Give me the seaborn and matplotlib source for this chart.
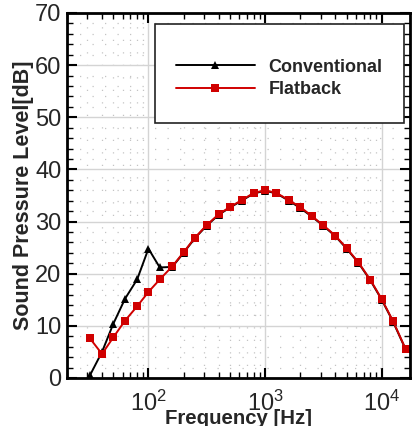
import numpy as np
import pandas as pd
import matplotlib
matplotlib.use("Agg")
import matplotlib.pyplot as plt
import seaborn as sns
from matplotlib.patches import Rectangle
from matplotlib.ticker import LogLocator, MultipleLocator, NullFormatter

# 1/3-octave band centre frequencies [Hz]
freq = [31.5, 40, 50, 63, 80, 100, 125, 160, 200, 250, 315, 400, 500, 630,
        800, 1000, 1250, 1600, 2000, 2500, 3150, 4000, 5000, 6300, 8000,
        10000, 12500, 16000]

# Sound pressure levels [dB]
spl_conventional = [0.5, 5.0, 10.4, 15.2, 18.9, 24.8, 21.2, 21.3, 24.0, 26.8,
                    29.2, 31.3, 32.7, 34.0, 35.4, 35.9, 35.4, 34.0, 32.6, 31.0,
                    29.2, 27.2, 24.8, 22.1, 18.7, 15.0, 10.8, 5.5]
spl_flatback = [7.6, 4.6, 7.8, 11.0, 13.75, 16.5, 18.9, 21.4, 24.1, 26.9,
                29.3, 31.4, 32.8, 34.1, 35.5, 36.0, 35.5, 34.1, 32.8, 31.1,
                29.3, 27.3, 24.9, 22.2, 18.8, 15.1, 10.9, 5.6]

series_names = ["Conventional", "Flatback"]

df = pd.concat([
    pd.DataFrame({"Frequency": freq, "SPL": spl_conventional, "Case": series_names[0]}),
    pd.DataFrame({"Frequency": freq, "SPL": spl_flatback, "Case": series_names[1]}),
])

sns.set_style("ticks")
plt.rcParams["font.family"] = ["Liberation Sans", "DejaVu Sans"]
plt.rcParams["mathtext.fontset"] = "custom"
plt.rcParams["mathtext.rm"] = "Liberation Sans"
plt.rcParams["mathtext.it"] = "Liberation Sans:italic"

fig = plt.figure(figsize=(4.13, 4.26), dpi=100)
ax = fig.add_axes([0.162, 0.1127, 0.831, 0.8568])

sns.lineplot(data=df, x="Frequency", y="SPL", hue="Case", style="Case",
             palette={"Conventional": "black", "Flatback": "#d00000"},
             markers={"Conventional": "^", "Flatback": "s"},
             dashes=False, markersize=6, linewidth=1.4,
             markeredgewidth=0, ax=ax)

ax.set_xscale("log")
ax.set_xlim(20, 17500)
ax.set_ylim(0, 70)

ax.xaxis.set_major_locator(LogLocator(base=10))
ax.xaxis.set_minor_locator(LogLocator(base=10, subs=np.arange(2, 10)))
ax.xaxis.set_minor_formatter(NullFormatter())
ax.yaxis.set_major_locator(MultipleLocator(10))
ax.yaxis.set_minor_locator(MultipleLocator(2))

ax.grid(which="major", color="#d4d4d4", linewidth=1.0, linestyle="-")
ax.grid(which="minor", color="#c4c4c4", linewidth=0.9, linestyle=(0, (1, 9)))
ax.set_axisbelow(True)

for s in ax.spines.values():
    s.set_linewidth(2.0)
    s.set_color("black")

ax.tick_params(which="both", direction="in", top=True, right=True,
               color="black")
ax.tick_params(which="major", length=7, width=1.5, labelsize=17)
ax.tick_params(axis="x", which="major", pad=9)
ax.tick_params(axis="y", which="major", pad=4)
ax.tick_params(which="minor", length=4, width=1.0)

ax.set_xlabel("Frequency [Hz]", fontsize=14.7, fontweight="bold", labelpad=-5)
ax.set_ylabel("Sound Pressure Level[dB]", fontsize=15.5, fontweight="bold",
              labelpad=1)

# legend frame box and entries
ax.add_patch(Rectangle((0.2566, 0.699), 0.7259, 0.271, transform=ax.transAxes,
                       facecolor="white", edgecolor="#222222", linewidth=1.2,
                       zorder=4))
leg = ax.legend(loc="center", bbox_to_anchor=(0.618, 0.821),
                prop={"weight": "bold", "size": 13},
                handlelength=4.4, handletextpad=0.75, borderpad=0,
                labelspacing=0.3, frameon=False, borderaxespad=0)
leg.set_zorder(5)
for h in leg.legend_handles:
    h.set_markersize(6)

fig.savefig("out.png", dpi=100)
